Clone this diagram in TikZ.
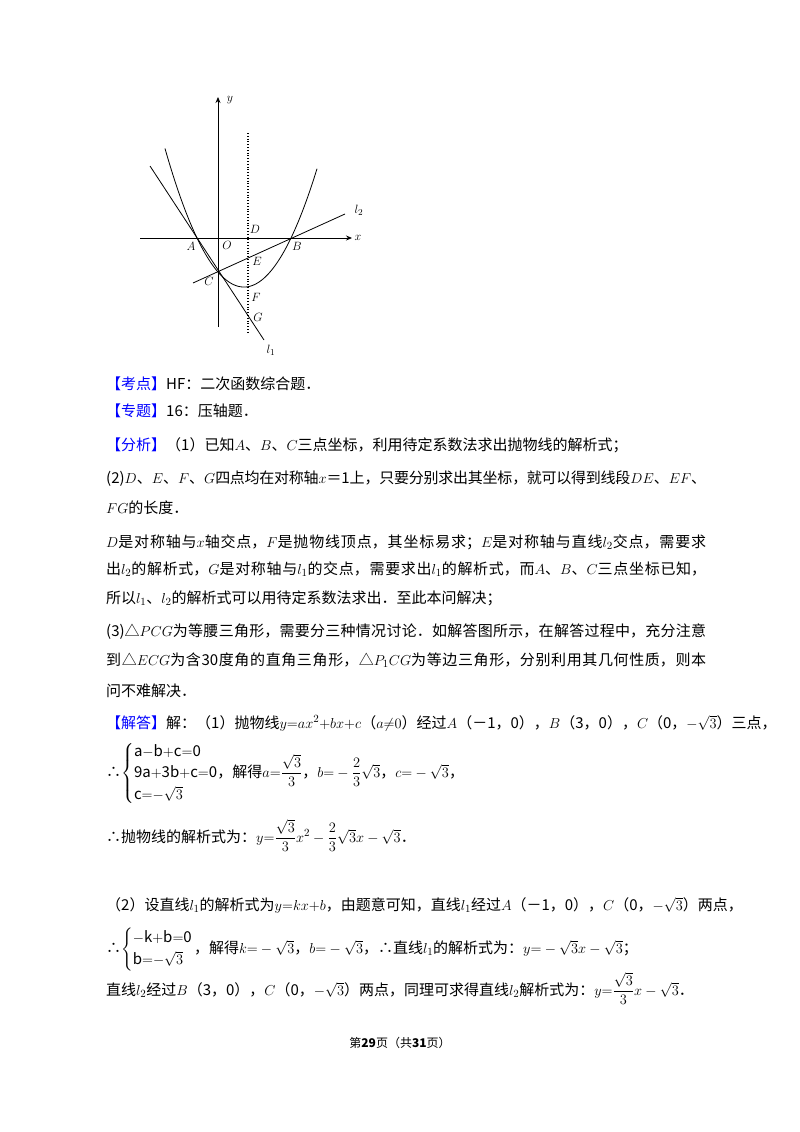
\documentclass[tikz,border=0pt]{standalone}
\usepackage{amsmath}
\usepackage{fontspec}
\usetikzlibrary{arrows.meta}
\setmainfont{Noto Sans CJK SC}
\XeTeXlinebreaklocale "zh"
\XeTeXlinebreakskip=0pt plus 3pt minus 1.5pt
\newcommand\hlab[1]{\textcolor{blue}{【#1】}}
\newcommand\fullline[1]{\parbox[b]{600pt}{\parfillskip=0pt\parindent=0pt\rightskip=0pt #1}}
\begin{document}
\begin{tikzpicture}[x=1pt,y=-1pt,
  txt/.style={anchor=base west,inner sep=0pt,font=\fontsize{15}{18}\selectfont},
  lab/.style={inner sep=0pt,font=\fontsize{13}{14}\selectfont},
  ln/.style={line width=0.8pt}]
\useasboundingbox (0,0) rectangle (800,1132);
% graph
\coordinate (O) at (218,238);
\coordinate (A) at (197,238);
\coordinate (B) at (291,238);
\coordinate (C) at (218,272);
\draw[ln,-{Stealth[length=6pt,width=5pt]}] (140,238) -- (352,238);
\draw[ln,-{Stealth[length=6pt,width=5pt]}] (218,327) -- (218,97);
\draw[ln,dotted,line width=1.2pt] (248,133) -- (248,332);
\draw[ln,domain=165:317,samples=80,smooth] plot (\x,{238-0.0222*(\x-197)*(\x-291)});
\coordinate (l1a) at (150,166);
\coordinate (l1b) at (264,340);
\coordinate (l2a) at (193,283);
\coordinate (l2b) at (345,214);
\draw[ln] (l1a) -- (l1b);
\draw[ln] (l2a) -- (l2b);
\node[lab] (ny) at (230,100) {$y$};
\node[lab] (nx) at (358,238) {$x$};
\node[lab] (nA) at (191,246) {$A$};
\node[lab] (nO) at (227,245) {$O$};
\node[lab] (nB) at (297,246) {$B$};
\node[lab] (nC) at (209,281) {$C$};
\node[lab] (nD) at (255,229) {$D$};
\node[lab] (nE) at (257,261) {$E$};
\node[lab] (nF) at (256,297) {$F$};
\node[lab] (nG) at (258,317) {$G$};
\node[lab] (nl2) at (359,210) {$l_2$};
\node[lab] (nl1) at (271,350) {$l_1$};
% text
\node[txt] (t1) at (106,389) {\hlab{考点}HF：二次函数综合题．};
\node[txt] (t2) at (106,416) {\hlab{专题}16：压轴题．};
\node[txt] (t3) at (106,450) {\hlab{分析}（1）已知$A$、$B$、$C$三点坐标，利用待定系数法求出抛物线的解析式；};
\node[txt] (t4) at (106,483) {\fullline{(2)$D$、$E$、$F$、$G$四点均在对称轴$x$＝1上，只要分别求出其坐标，就可以得到线段$DE$、$EF$、}};
\node[txt] (t5) at (106,513) {$FG$的长度．};
\node[txt] (t6) at (106,547) {\fullline{$D$是对称轴与$x$轴交点，$F$是抛物线顶点，其坐标易求；$E$是对称轴与直线$l_2$交点，需要求}};
\node[txt] (t7) at (106,574) {\fullline{出$l_2$的解析式，$G$是对称轴与$l_1$的交点，需要求出$l_1$的解析式，而$A$、$B$、$C$三点坐标已知，}};
\node[txt] (t8) at (106,603) {所以$l_1$、$l_2$的解析式可以用待定系数法求出．至此本问解决；};
\node[txt] (t9) at (106,636) {\fullline{(3)△$PCG$为等腰三角形，需要分三种情况讨论．如解答图所示，在解答过程中，充分注意}};
\node[txt] (t10) at (106,665) {\fullline{到△$ECG$为含30度角的直角三角形，△$P_1CG$为等边三角形，分别利用其几何性质，则本}};
\node[txt] (t11) at (106,696) {问不难解决．};
\node[txt] (t12) at (106,728) {\hlab{解答}解：（1）抛物线$y{=}ax^2{+}bx{+}c$（$a{\neq}0$）经过$A$（－1，0），$B$（3，0），$C$（0，$-\sqrt{3}$）三点，};
\node[txt] (t13) at (106,777) {∴$\begin{cases}\mathrm{a{-}b{+}c{=}0}\\ \mathrm{9a{+}3b{+}c{=}0}\\ \mathrm{c}{=}{-}\sqrt{3}\end{cases}$\hspace{-16pt}，解得$a{=}\dfrac{\sqrt{3}}{3}$，$b{=}-\dfrac{2}{3}\sqrt{3}$，$c{=}-\sqrt{3}$，};
\node[txt] (t14) at (106,842) {∴抛物线的解析式为：$y{=}\dfrac{\sqrt{3}}{3}x^2-\dfrac{2}{3}\sqrt{3}x-\sqrt{3}$．};
\node[txt] (t15) at (106,910) {（2）设直线$l_1$的解析式为$y{=}kx{+}b$，由题意可知，直线$l_1$经过$A$（－1，0），$C$（0，$-\sqrt{3}$）两点，};
\node[txt] (t16) at (106,953) {∴$\begin{cases}\mathrm{-k{+}b{=}0}\\ \mathrm{b}{=}{-}\sqrt{3}\end{cases}$\hspace{-14pt}，解得$k{=}-\sqrt{3}$，$b{=}-\sqrt{3}$，∴直线$l_1$的解析式为：$y{=}-\sqrt{3}x-\sqrt{3}$；};
\node[txt] (t17) at (106,995) {直线$l_2$经过$B$（3，0），$C$（0，$-\sqrt{3}$）两点，同理可求得直线$l_2$解析式为：$y{=}\dfrac{\sqrt{3}}{3}x-\sqrt{3}$．};
\node[inner sep=0pt,font=\fontsize{12}{14}\selectfont] (ft) at (400,1043) {第\textbf{29}页（共\textbf{31}页）};
\end{tikzpicture}
\end{document}
